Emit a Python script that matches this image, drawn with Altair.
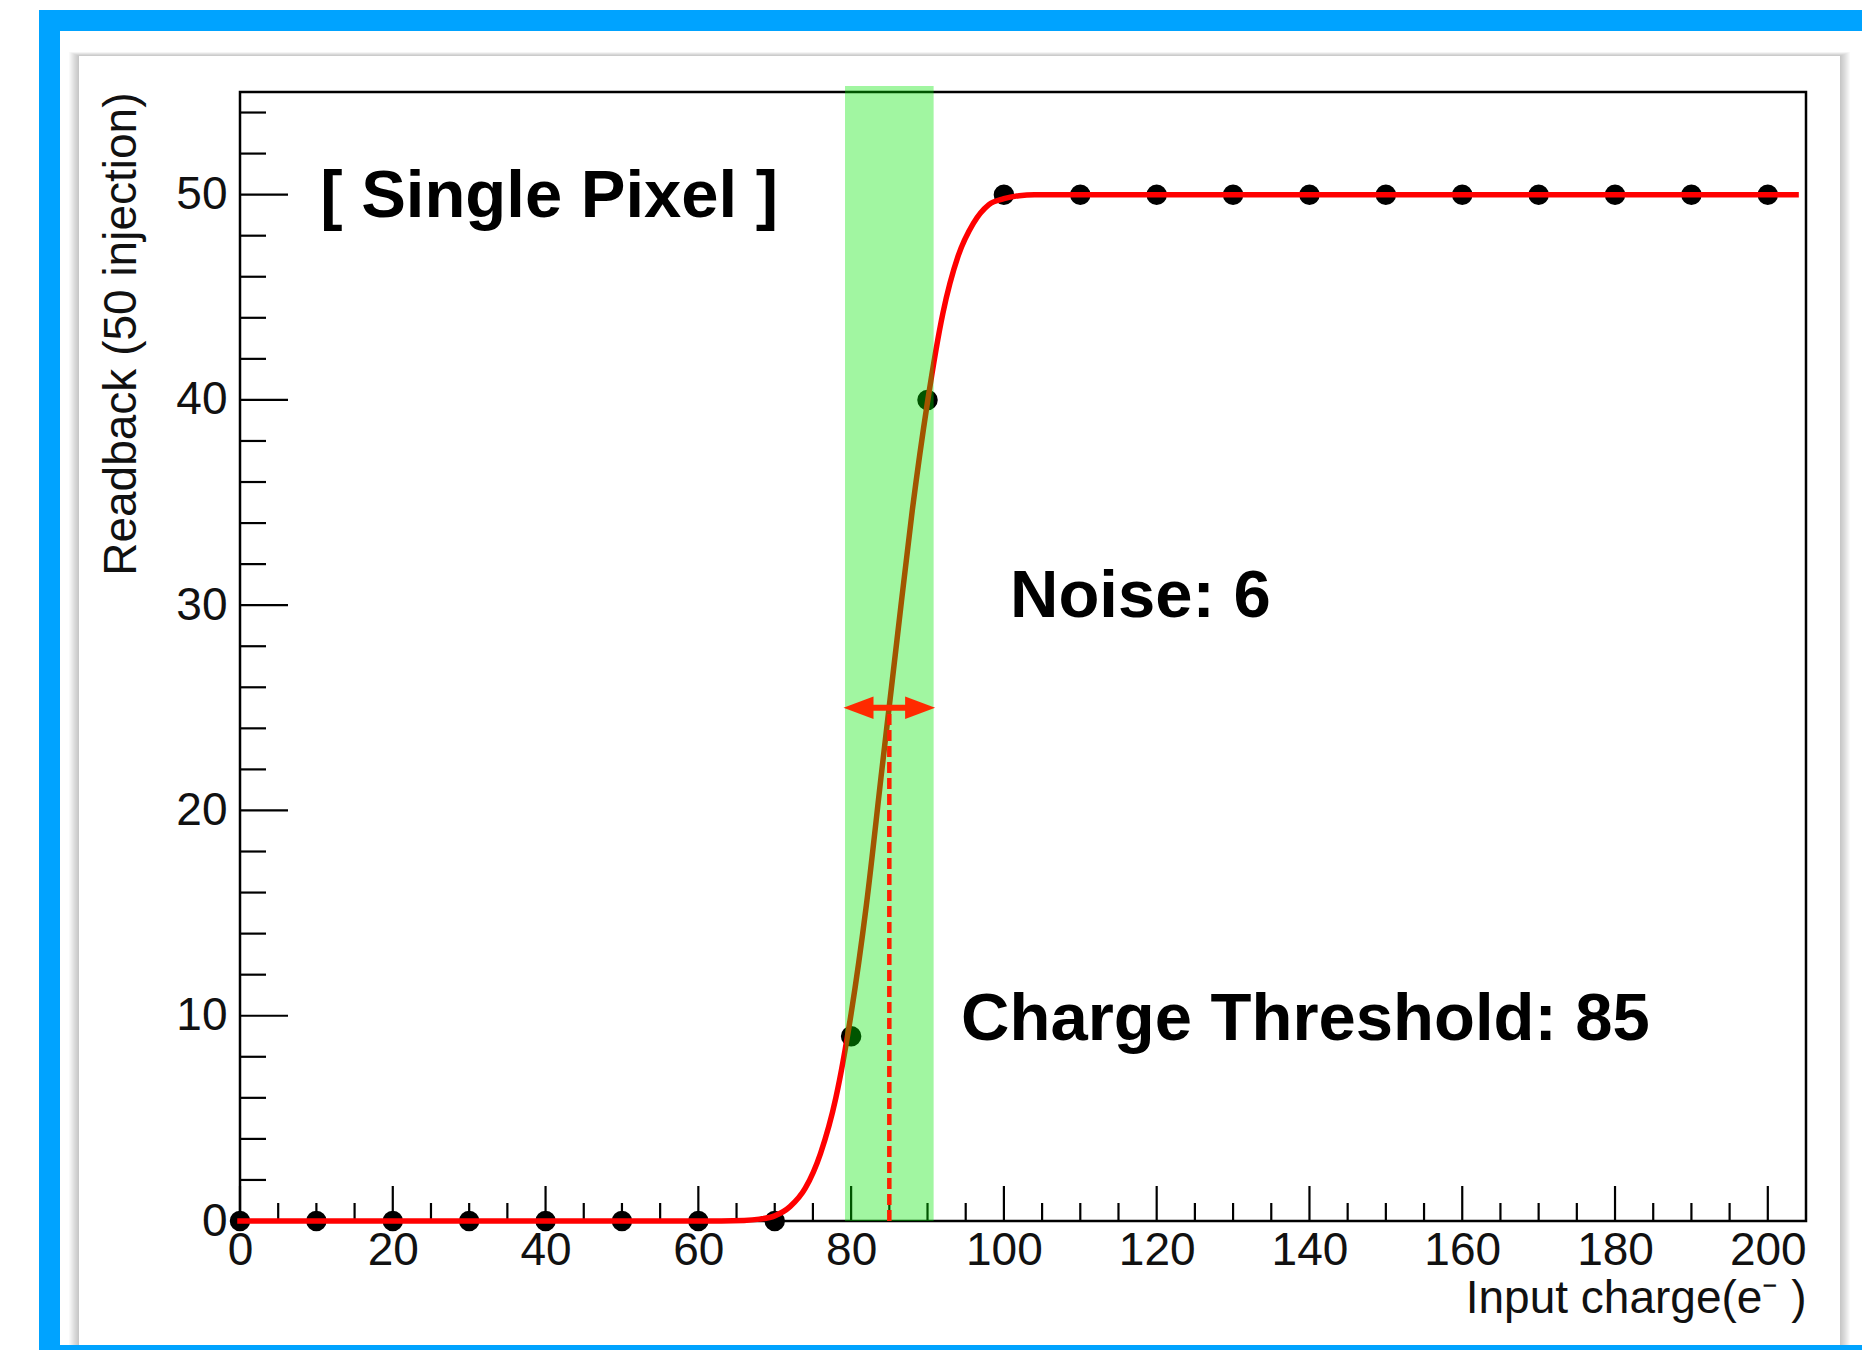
import altair as alt
import pandas as pd

# ---------------- data ----------------
charge = [0, 10, 20, 30, 40, 50, 60, 70, 80, 90, 100, 110, 120, 130, 140,
          150, 160, 170, 180, 190, 200]
readback = [0, 0, 0, 0, 0, 0, 0, 0, 9, 40, 50, 50, 50, 50, 50,
            50, 50, 50, 50, 50, 50]

fit_x = [0, 60, 66, 68, 70, 72, 74, 76, 78, 80, 82, 84, 86, 88, 90, 92, 94,
         96, 98, 100, 102, 104, 110, 203.7]
fit_y = [0, 0, 0.03, 0.09, 0.25, 0.7, 1.6, 3.3, 6.0, 10.1, 15.4, 21.9, 28.3,
         34.6, 39.9, 44.2, 47.0, 48.6, 49.5, 49.8, 49.95, 50, 50, 50]

band_lo, band_hi = 79.2, 90.8          # threshold +/- noise band
threshold = 85
arrow_y = 25
arrow_tips = [79, 91]
shaft = [80.5, 89.5]

x_major = [0, 20, 40, 60, 80, 100, 120, 140, 160, 180, 200]
x_minor = [5, 10, 15, 25, 30, 35, 45, 50, 55, 65, 70, 75, 85, 90, 95, 105, 110,
           115, 125, 130, 135, 145, 150, 155, 165, 170, 175, 185, 190, 195]
y_major = [0, 10, 20, 30, 40, 50]
y_minor = [2, 4, 6, 8, 12, 14, 16, 18, 22, 24, 26, 28, 32, 34, 36, 38, 42, 44,
           46, 48, 52, 54]

labels = ["[ Single Pixel ]", "Noise: 6", "Charge Threshold: 85"]
label_x = [10.5, 100.8, 94.4]
label_y = [48.9, 29.4, 8.8]

# ---------------- layout ----------------
W, H = 1566, 1129
PAD = {"left": 232, "top": 84, "right": 56, "bottom": 129}
FONT = "Liberation Sans"

xs = alt.Scale(domain=[0, 205], nice=False, zero=False)
ys = alt.Scale(domain=[0, 55], nice=False, zero=False)

AX_X = alt.Axis(
    values=x_major, ticks=False, tickSize=0, domain=False, grid=False,
    labelFont=FONT, labelFontSize=46, labelColor="#111111", labelPadding=7,
    labelFlush=False, labelOverlap=False, zindex=2,
    title="Input charge(e\u207b )", titleFont=FONT, titleFontSize=46,
    titleFontWeight="normal", titleColor="#111111", titleX=W, titleY=91,
    titleAlign="right", titleBaseline="alphabetic", titleAngle=0)
AX_Y = alt.Axis(
    values=y_major, ticks=False, tickSize=0, domain=False, grid=False,
    labelFont=FONT, labelFontSize=46, labelColor="#111111", labelPadding=13,
    labelFlush=False, labelOverlap=False, zindex=2,
    title="Readback (50 injection)", titleFont=FONT, titleFontSize=46,
    titleFontWeight="normal", titleColor="#111111", titleX=-105, titleY=0,
    titleAlign="right", titleBaseline="alphabetic", titleAngle=270)


def X(f):
    return alt.X(f, scale=xs, axis=AX_X)


def Y(f):
    return alt.Y(f, scale=ys, axis=AX_Y)


one = alt.Data(values=[{"k": 0}])


def box(x0, x1, y0, y1, **mk):
    return alt.Chart(one).mark_rect(**mk).encode(
        x=alt.value(x0), x2=alt.value(x1), y=alt.value(y0), y2=alt.value(y1))


RIGHT = W + PAD["right"]
BOTTOM = H + PAD["bottom"]

layers = []
# blue frame and inner white area
layers.append(box(-201, RIGHT, -82, BOTTOM, color="#00a3ff"))
layers.append(box(-180, RIGHT, -61, H + 124, color="#ffffff"))
# card shadow
for i in range(1, 11):
    layers.append(box(-161 - i, 1600 + i, -36 - i * 0.4, H + 124,
                      color="#303030", opacity=0.03))
# card
layers.append(box(-161, 1600, -36, H + 124, color="#ffffff"))
# plot frame
layers.append(box(0, W, 0, H, fillOpacity=0, stroke="#000000", strokeWidth=2.5))

# ticks (drawn inward, ROOT style)
tick_col = "#000000"
layers.append(alt.Chart(pd.DataFrame({"v": y_major})).mark_rule(
    color=tick_col, strokeWidth=2.2).encode(
    y=Y("v:Q"), x=alt.value(0), x2=alt.value(48)))
layers.append(alt.Chart(pd.DataFrame({"v": y_minor})).mark_rule(
    color=tick_col, strokeWidth=2.2).encode(
    y=Y("v:Q"), x=alt.value(0), x2=alt.value(26)))
layers.append(alt.Chart(pd.DataFrame({"v": x_major})).mark_rule(
    color=tick_col, strokeWidth=2.2).encode(
    x=X("v:Q"), y=alt.value(H), y2=alt.value(H - 35)))
layers.append(alt.Chart(pd.DataFrame({"v": x_minor})).mark_rule(
    color=tick_col, strokeWidth=2.2).encode(
    x=X("v:Q"), y=alt.value(H), y2=alt.value(H - 18)))

# data points
pts = pd.DataFrame({"x": charge, "y": readback})
layers.append(alt.Chart(pts).mark_circle(size=420, color="#000000", opacity=1).encode(
    x=X("x:Q"), y=Y("y:Q")))

# fitted curve
fit = pd.DataFrame({"x": fit_x, "y": fit_y})
layers.append(alt.Chart(fit).mark_line(
    color="#ff0000", strokeWidth=5.5, interpolate="monotone", strokeCap="square").encode(
    x=X("x:Q"), y=Y("y:Q")))

# green noise band (overlay)
band = pd.DataFrame({"x": [band_lo], "x2": [band_hi]})
layers.append(alt.Chart(band).mark_rect(color="#00e600", opacity=0.37).encode(
    x=X("x:Q"), x2="x2:Q",
    y=alt.value(-6), y2=alt.value(H)))

# threshold dashed line
thr = pd.DataFrame({"x": [threshold], "y": [0], "y2": [arrow_y]})
layers.append(alt.Chart(thr).mark_rule(
    color="#ff2000", strokeWidth=4.5, strokeDash=[11, 5]).encode(
    x=X("x:Q"), y=Y("y:Q"), y2="y2:Q"))

# double arrow
sh = pd.DataFrame({"x": [shaft[0]], "x2": [shaft[1]], "y": [arrow_y]})
layers.append(alt.Chart(sh).mark_rule(color="#ff2a00", strokeWidth=6).encode(
    x=X("x:Q"), x2="x2:Q", y=Y("y:Q")))
heads = pd.DataFrame({"x": arrow_tips, "y": [arrow_y, arrow_y]})
layers.append(alt.Chart(heads.iloc[[0]]).mark_point(
    shape="M 0 0 L 2 -0.75 L 2 0.75 Z", size=900, filled=True, opacity=1,
    color="#ff2a00").encode(x=X("x:Q"), y=Y("y:Q")))
layers.append(alt.Chart(heads.iloc[[1]]).mark_point(
    shape="M 0 0 L -2 -0.75 L -2 0.75 Z", size=900, filled=True, opacity=1,
    color="#ff2a00").encode(x=X("x:Q"), y=Y("y:Q")))

# annotation texts
txt = pd.DataFrame({"t": labels, "x": label_x, "y": label_y})
layers.append(alt.Chart(txt).mark_text(
    font=FONT, fontSize=67, fontWeight="bold", color="#000000",
    align="left", baseline="alphabetic").encode(
    x=X("x:Q"), y=Y("y:Q"), text="t:N"))

chart = alt.layer(*layers).properties(
    width=W, height=H, padding=PAD,
    autosize=alt.AutoSizeParams(type="none"),
    background="#ffffff",
).configure_view(strokeWidth=0)

chart.save("out.html", embed_options={"renderer": "svg", "actions": False})
